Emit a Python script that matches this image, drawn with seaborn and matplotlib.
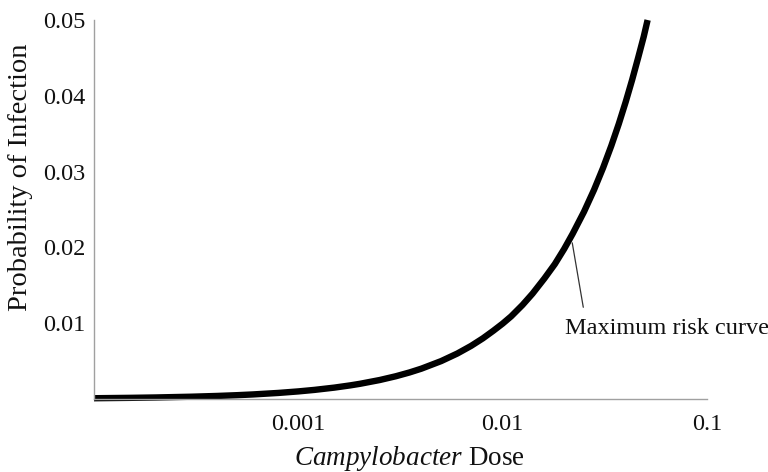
import matplotlib
matplotlib.use("Agg")
import matplotlib.pyplot as plt
from matplotlib.ticker import LogLocator, MultipleLocator, FixedLocator, NullFormatter
import seaborn as sns
import pandas as pd

# Dose-response values for the maximum risk curve
dose = [0.0001, 0.00015, 0.0002, 0.0003, 0.0004, 0.0005, 0.0006, 0.0008,
        0.001, 0.0012, 0.0015, 0.0018, 0.002, 0.0025, 0.003, 0.0035, 0.004,
        0.005, 0.006, 0.007, 0.008, 0.009, 0.01, 0.011, 0.0125, 0.014,
        0.016, 0.018, 0.02, 0.022, 0.025, 0.028, 0.031, 0.034, 0.037, 0.04,
        0.043, 0.046, 0.049, 0.0512]
probability = [0.0001, 0.00015, 0.0002, 0.0003, 0.0004, 0.0005, 0.0006,
               0.0008, 0.001, 0.0012, 0.0015, 0.0018, 0.002, 0.0025, 0.003,
               0.0035, 0.004, 0.005, 0.006, 0.007, 0.008, 0.009, 0.00995,
               0.0109, 0.0124, 0.0139, 0.0159, 0.0178, 0.0198, 0.0218,
               0.0247, 0.0276, 0.0305, 0.0334, 0.0363, 0.0392, 0.0421,
               0.045, 0.0478, 0.05]

y_ticks = [0.01, 0.02, 0.03, 0.04, 0.05]
y_tick_labels = ["0.01", "0.02", "0.03", "0.04", "0.05"]
x_ticks = [0.001, 0.01, 0.1]
x_tick_labels = ["0.001", "0.01", "0.1"]
curve_label = "Maximum risk curve"

sns.set_theme(style="white")
plt.rcParams["font.family"] = ["Liberation Serif", "DejaVu Serif"]
plt.rcParams["mathtext.fontset"] = "custom"
plt.rcParams["mathtext.rm"] = "Liberation Serif"
plt.rcParams["mathtext.it"] = "Liberation Serif:italic"

df = pd.DataFrame({"dose": dose, "probability": probability})

fig = plt.figure(figsize=(7.68, 4.72), dpi=100)
ax = fig.add_axes([0.1224, 0.1547, 0.7982, 0.8029])

sns.lineplot(data=df, x="dose", y="probability", ax=ax, color="black",
             linewidth=4.6, clip_on=False, solid_capstyle="butt",
             solid_joinstyle="round")

ax.set_xscale("log")
ax.set_xlim(0.0001, 0.1)
ax.set_ylim(0, 0.05)

ax.xaxis.set_major_locator(FixedLocator(x_ticks))
ax.set_xticklabels(x_tick_labels)
ax.xaxis.set_minor_locator(LogLocator(base=10, subs=range(2, 10)))
ax.xaxis.set_minor_formatter(NullFormatter())
ax.yaxis.set_major_locator(FixedLocator(y_ticks))
ax.set_yticklabels(y_tick_labels)
ax.yaxis.set_minor_locator(MultipleLocator(0.002))

spine_color = "#a0a0a0"
for side in ["top", "right"]:
    ax.spines[side].set_visible(False)
for side in ["left", "bottom"]:
    ax.spines[side].set_color(spine_color)
    ax.spines[side].set_linewidth(1.0)

ax.tick_params(axis="both", which="major", direction="in", length=4,
               width=0.8, color=spine_color, labelsize=17.5, pad=11,
               labelcolor="#111111")
ax.tick_params(axis="both", which="minor", direction="in", length=2.5,
               width=0.6, color=spine_color)
ax.tick_params(axis="y", which="major", pad=6)

ax.set_xlabel(r"$\mathit{Campylobacter}$ Dose", fontsize=19.5,
              color="#111111")
ax.xaxis.set_label_coords(0.514, -0.12)
ax.set_ylabel("Probability of Infection", fontsize=20.5, color="#111111")
ax.yaxis.set_label_coords(-0.1, 0.586)

# Leader line from the curve to its label
ax.annotate("", xy=(0.0219, 0.0206), xytext=(0.0248, 0.0121),
            arrowprops=dict(arrowstyle="-", color="#333333", lw=0.9,
                            shrinkA=0, shrinkB=0))
ax.text(0.0201, 0.0107, curve_label, fontsize=17.5, color="#111111",
        ha="left", va="top")

fig.savefig("out.png", dpi=100, facecolor="white")
